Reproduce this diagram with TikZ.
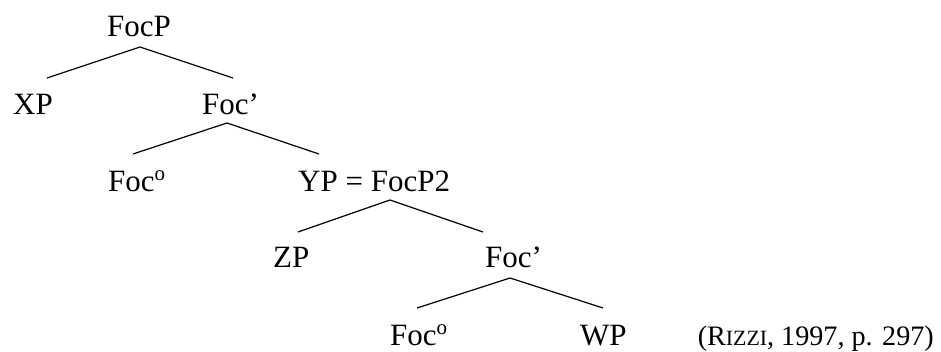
\documentclass[tikz,border=0pt]{standalone}
\usepackage{fontspec}
\setmainfont{Liberation Serif}
\begin{document}
\begin{tikzpicture}[x=1pt,y=-1pt,
  lbl/.style={anchor=base west,inner sep=0pt,font=\fontsize{31}{36}\selectfont},
  branch/.style={line width=1.2pt}]
\useasboundingbox (0,0) rectangle (941,352);
% labels
\node[lbl] (focp) at (107,37) {FocP};
\node[lbl] (xp) at (13,115) {XP};
\node[lbl] (focbar1) at (202,115) {Foc’};
\node[lbl] (foco1) at (108,192) {Foc\raisebox{11pt}{\fontsize{21}{21}\selectfont o}};
\node[lbl] (yp) at (298,192) {YP = FocP2};
\node[lbl] (zp) at (273,268) {ZP};
\node[lbl] (focbar2) at (485,268) {Foc’};
\node[lbl] (foco2) at (390,345) {Foc\raisebox{11pt}{\fontsize{21}{21}\selectfont o}};
\node[lbl] (wp) at (580,345) {WP};
\node[lbl,anchor=base east] (cite) at (934,345) {\resizebox{236pt}{!}{(R{\fontsize{24}{28}\selectfont IZZI}, 1997, p. 297)}};
% branch points
\coordinate (a1) at (140,47);  \coordinate (l1) at (47,78);   \coordinate (r1) at (233,78);
\coordinate (a2) at (227,123); \coordinate (l2) at (133,154); \coordinate (r2) at (319,154);
\coordinate (a3) at (390,200); \coordinate (l3) at (298,232); \coordinate (r3) at (483,232);
\coordinate (a4) at (510,278); \coordinate (l4) at (417,308); \coordinate (r4) at (603,308);
\draw[branch] (l1) -- (a1) -- (r1);
\draw[branch] (l2) -- (a2) -- (r2);
\draw[branch] (l3) -- (a3) -- (r3);
\draw[branch] (l4) -- (a4) -- (r4);
\end{tikzpicture}
\end{document}
